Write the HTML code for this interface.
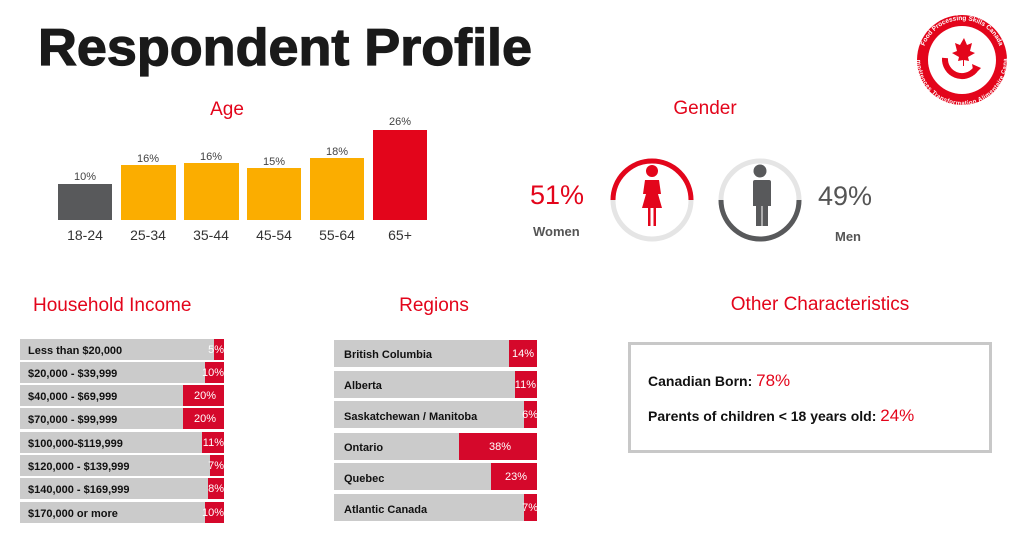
<!DOCTYPE html>
<html><head><meta charset="utf-8"><style>
body{margin:0;background:#fff;}
svg{display:block;font-family:"Liberation Sans",sans-serif;}
</style></head><body>
<svg width="1024" height="544" viewBox="0 0 1024 544" xmlns="http://www.w3.org/2000/svg">
<rect width="1024" height="544" fill="#fff"/>
<text x="38" y="65" font-size="52" font-weight="bold" fill="#1a1a1a" textLength="494" lengthAdjust="spacingAndGlyphs" stroke="#1a1a1a" stroke-width="1.2">Respondent Profile</text>

<!-- logo -->
<defs>
<path id="arcTop" d="M922 60 A40 40 0 0 1 1002 60"/>
<path id="arcBot" d="M922 60 A40 40 0 0 0 1002 60"/>
</defs>
<circle cx="962" cy="60" r="45" fill="#e3051b"/>
<circle cx="962" cy="60" r="34" fill="#fff"/>
<text font-size="6.5" fill="#fff" font-weight="bold"><textPath href="#arcTop" startOffset="50%" text-anchor="middle">Food Processing Skills Canada</textPath></text>
<text font-size="6" fill="#fff" font-weight="bold" dy="5"><textPath href="#arcBot" startOffset="50%" text-anchor="middle">Compétences Transformation Alimentaire Canada</textPath></text>
<path d="M964 38 l3 7 5 -2 -2 8 5 2 -7 4 1 4 -5 -1 0 6 -1 0 0 -6 -5 1 1 -4 -7 -4 5 -2 -2 -8 5 2z" fill="#e3051b"/>
<path d="M945 58 a17 17 0 0 0 30 12" fill="none" stroke="#e3051b" stroke-width="6"/>
<path d="M972 64 l9 4 -7 7z" fill="#e3051b"/>

<!-- Age -->
<text x="227" y="115" font-size="19" fill="#e3051b" text-anchor="middle">Age</text>
<g font-size="11" fill="#444" text-anchor="middle">
<rect x="58" y="184" width="54" height="36" fill="#58595b"/><text x="85" y="180">10%</text>
<rect x="121" y="165" width="55" height="55" fill="#fbad00"/><text x="148" y="162">16%</text>
<rect x="184" y="163" width="55" height="57" fill="#fbad00"/><text x="211" y="160">16%</text>
<rect x="247" y="168" width="54" height="52" fill="#fbad00"/><text x="274" y="165">15%</text>
<rect x="310" y="158" width="54" height="62" fill="#fbad00"/><text x="337" y="155">18%</text>
<rect x="373" y="130" width="54" height="90" fill="#e3051b"/><text x="400" y="125">26%</text>
</g>
<g font-size="14" fill="#333" text-anchor="middle">
<text x="85" y="240">18-24</text><text x="148" y="240">25-34</text><text x="211" y="240">35-44</text>
<text x="274" y="240">45-54</text><text x="337" y="240">55-64</text><text x="400" y="240">65+</text>
</g>

<!-- Gender -->
<text x="705" y="114" font-size="19" fill="#e3051b" text-anchor="middle">Gender</text>
<text x="530" y="204" font-size="27" fill="#e3051b">51%</text>
<text x="533" y="236" font-size="13" font-weight="bold" fill="#555">Women</text>
<text x="818" y="205" font-size="27" fill="#555">49%</text>
<text x="835" y="241" font-size="13" font-weight="bold" fill="#555">Men</text>
<circle cx="652" cy="200" r="39" fill="none" stroke="#e5e5e5" stroke-width="5"/>
<path d="M613 200 A39 39 0 0 1 691 200" fill="none" stroke="#e3051b" stroke-width="5"/>
<circle cx="760" cy="200" r="39" fill="none" stroke="#e5e5e5" stroke-width="5"/>
<path d="M721 200 A39 39 0 0 0 799 200" fill="none" stroke="#58595b" stroke-width="5"/>
<g fill="#e3051b">
<circle cx="652" cy="171" r="6"/>
<path d="M645 180 h14 l2 14 -3 0 4 14 -6 0 v18 h-2.5 v-18 h-3 v18 h-2.5 v-18 h-6 l4 -14 -3 0z"/>
</g>
<g fill="#58595b">
<circle cx="760" cy="171" r="6.5"/>
<path d="M751 180 h18 q2 0 2 2 v24 h-3 v20 h-5.5 v-20 h-1 v20 h-5.5 v-20 h-3 v-24 q0 -2 2 -2z"/>
</g>

<!-- Household Income -->
<text x="33" y="311" font-size="19" fill="#e3051b">Household Income</text>
<g font-size="11" font-weight="bold" fill="#111">
<rect x="20" y="339" width="204" height="21" fill="#cbcbcb"/><rect x="214" y="339" width="10" height="21" fill="#d5082b"/><text x="28" y="354">Less than $20,000</text>
<rect x="20" y="362" width="204" height="21" fill="#cbcbcb"/><rect x="205" y="362" width="19" height="21" fill="#d5082b"/><text x="28" y="377">$20,000 - $39,999</text>
<rect x="20" y="385" width="204" height="21" fill="#cbcbcb"/><rect x="183" y="385" width="41" height="21" fill="#d5082b"/><text x="28" y="400">$40,000 - $69,999</text>
<rect x="20" y="408" width="204" height="21" fill="#cbcbcb"/><rect x="183" y="408" width="41" height="21" fill="#d5082b"/><text x="28" y="423">$70,000 - $99,999</text>
<rect x="20" y="432" width="204" height="21" fill="#cbcbcb"/><rect x="202" y="432" width="22" height="21" fill="#d5082b"/><text x="28" y="447">$100,000-$119,999</text>
<rect x="20" y="455" width="204" height="21" fill="#cbcbcb"/><rect x="210" y="455" width="14" height="21" fill="#d5082b"/><text x="28" y="470">$120,000 - $139,999</text>
<rect x="20" y="478" width="204" height="21" fill="#cbcbcb"/><rect x="208" y="478" width="16" height="21" fill="#d5082b"/><text x="28" y="493">$140,000 - $169,999</text>
<rect x="20" y="502" width="204" height="21" fill="#cbcbcb"/><rect x="205" y="502" width="19" height="21" fill="#d5082b"/><text x="28" y="517">$170,000 or more</text>
</g>
<g font-size="11" fill="#fff" text-anchor="end">
<text x="224" y="353">5%</text><text x="224" y="376">10%</text><text x="216" y="399">20%</text><text x="216" y="422">20%</text>
<text x="224" y="446">11%</text><text x="224" y="469">7%</text><text x="224" y="492">8%</text><text x="224" y="516">10%</text>
</g>

<!-- Regions -->
<text x="434" y="311" font-size="19" fill="#e3051b" text-anchor="middle">Regions</text>
<g font-size="11" font-weight="bold" fill="#111">
<rect x="334" y="340" width="203" height="27" fill="#cbcbcb"/><rect x="509" y="340" width="28" height="27" fill="#d5082b"/><text x="344" y="358">British Columbia</text>
<rect x="334" y="371" width="203" height="27" fill="#cbcbcb"/><rect x="515" y="371" width="22" height="27" fill="#d5082b"/><text x="344" y="389">Alberta</text>
<rect x="334" y="401" width="203" height="27" fill="#cbcbcb"/><rect x="524" y="401" width="13" height="27" fill="#d5082b"/><text x="344" y="420">Saskatchewan / Manitoba</text>
<rect x="334" y="433" width="203" height="27" fill="#cbcbcb"/><rect x="459" y="433" width="78" height="27" fill="#d5082b"/><text x="344" y="451">Ontario</text>
<rect x="334" y="463" width="203" height="27" fill="#cbcbcb"/><rect x="491" y="463" width="46" height="27" fill="#d5082b"/><text x="344" y="482">Quebec</text>
<rect x="334" y="494" width="203" height="27" fill="#cbcbcb"/><rect x="524" y="494" width="13" height="27" fill="#d5082b"/><text x="344" y="513">Atlantic Canada</text>
</g>
<g font-size="11" fill="#fff" text-anchor="end">
<text x="534" y="357">14%</text><text x="536" y="388">11%</text><text x="538" y="418">6%</text>
<text x="511" y="450">38%</text><text x="527" y="480">23%</text><text x="538" y="511">7%</text>
</g>

<!-- Other -->
<text x="820" y="310" font-size="19" fill="#e3051b" text-anchor="middle">Other Characteristics</text>
<rect x="629.5" y="343.5" width="361" height="108" fill="#fff" stroke="#c8c8c8" stroke-width="3"/>
<text x="648" y="386" font-size="14" font-weight="bold" fill="#111">Canadian Born: <tspan fill="#e3051b" font-size="17" font-weight="normal">78%</tspan></text>
<text x="648" y="421" font-size="14" font-weight="bold" fill="#111">Parents of children &lt; 18 years old: <tspan fill="#e3051b" font-size="17" font-weight="normal">24%</tspan></text>
</svg>
</body></html>
